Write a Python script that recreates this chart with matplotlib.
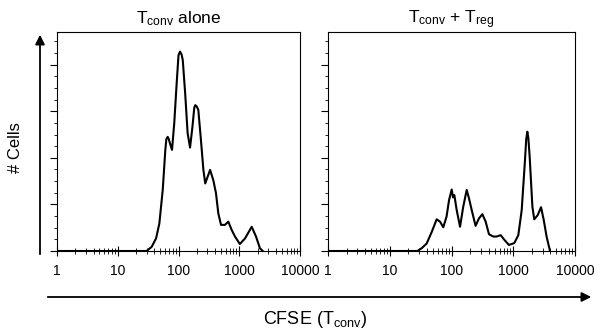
import matplotlib
matplotlib.use("Agg")
import matplotlib.pyplot as plt
from matplotlib.ticker import FixedLocator, MultipleLocator, NullFormatter

plt.rcParams['font.family'] = ['Liberation Sans', 'DejaVu Sans']
plt.rcParams['mathtext.fontset'] = 'custom'
plt.rcParams['mathtext.rm'] = 'Liberation Sans'
plt.rcParams['mathtext.it'] = 'Liberation Sans'

# ---- data (CFSE intensity vs relative cell count) ----
alone_cfse = [1, 10, 29.9, 36.2, 42.7, 48.4, 55.0, 60.7, 63.1, 66.4, 69.2, 72.4, 78.2, 85.1, 93.3,
              100, 105.9, 112.2, 117.5, 128.8, 141.3, 154.9, 169.8, 182, 189.2, 199.5, 211.8, 231.7, 257.0,
              275.4, 331.1, 374.1, 414.0, 451.9, 501.2, 582.1, 660.7, 751.6, 851.1,
              1023, 1245, 1603, 1888, 2188, 2432]
alone_cells = [0, 0, 0, 0.09, 0.27, 0.59, 1.31, 2.17, 2.40, 2.45, 2.40, 2.31, 2.17, 2.74, 3.60,
               4.20, 4.28, 4.22, 4.10, 3.38, 2.53, 2.22, 2.67, 3.08, 3.13, 3.10, 3.03, 2.45, 1.74,
               1.45, 1.74, 1.52, 1.24, 0.81, 0.56, 0.56, 0.63, 0.45, 0.31,
               0.15, 0.27, 0.52, 0.31, 0.06, 0]

treg_cfse = [1, 10, 28.0, 32.9, 39.6, 47.9, 57.5, 65.2, 73.6, 83.2, 91.2, 100.7, 105.9,
             111.2, 121.3, 137.4, 154.9, 176.2, 191.9, 212.3, 245.5, 278.6, 316.2,
             357.3, 404.6, 475.3, 537.0, 625.2, 717.8, 851.1, 1040, 1208, 1371, 1549,
             1622, 1690, 1758, 1845, 2042, 2188, 2489, 2818, 3112, 3467, 3936]
treg_cells = [0, 0, 0, 0.06, 0.16, 0.41, 0.68, 0.63, 0.51, 0.74, 1.09, 1.32, 1.15,
              1.20, 0.88, 0.52, 0.95, 1.31, 1.13, 0.88, 0.54, 0.70, 0.79,
              0.63, 0.36, 0.31, 0.31, 0.34, 0.24, 0.13, 0.17, 0.34, 0.88, 1.95,
              2.40, 2.56, 2.42, 2.02, 0.95, 0.68, 0.77, 0.94, 0.67, 0.31, 0]

x_ticks = [1, 10, 100, 1000, 10000]
x_tick_labels = ["1", "10", "100", "1000", "10000"]
titles = [r"$\mathregular{T_{conv}}$ alone", r"$\mathregular{T_{conv}}$ + $\mathregular{T_{reg}}$"]
y_label = "# Cells"
x_label = r"CFSE ($\mathregular{T_{conv}}$)"

W, H = 600, 332
fig = plt.figure(figsize=(6, 3.32), dpi=100)

def px_rect(x0, y0, x1, y1):
    return [x0 / W, 1 - y1 / H, (x1 - x0) / W, (y1 - y0) / H]

ax1 = fig.add_axes(px_rect(57, 32, 300, 251))
ax2 = fig.add_axes(px_rect(328, 32, 575, 251))

for ax, xs, ys, title in [(ax1, alone_cfse, alone_cells, titles[0]),
                          (ax2, treg_cfse, treg_cells, titles[1])]:
    ax.plot(xs, ys, color='black', lw=1.5, solid_joinstyle='round')
    ax.set_xscale('log')
    ax.set_xlim(1, 10000)
    ax.set_ylim(0, 4.7)
    ax.xaxis.set_major_locator(FixedLocator(x_ticks))
    ax.set_xticklabels(x_tick_labels)
    ax.xaxis.set_minor_formatter(NullFormatter())
    ax.yaxis.set_major_locator(MultipleLocator(1))
    ax.yaxis.set_minor_locator(MultipleLocator(0.25))
    ax.set_yticklabels([])
    ax.tick_params(axis='x', which='major', direction='inout', length=7, width=0.8,
                   labelsize=10, pad=6)
    ax.tick_params(axis='x', which='minor', direction='inout', length=4, width=0.6)
    ax.tick_params(axis='y', which='major', direction='out', length=5, width=0.8)
    ax.tick_params(axis='y', which='minor', direction='out', length=2.5, width=0.6)
    for s in ax.spines.values():
        s.set_linewidth(0.8)
    ax.set_title(title, fontsize=12.5, pad=6)

# axis arrows
fig.add_artist(matplotlib.patches.FancyArrowPatch(
    (40 / W, 1 - 257 / H), (40 / W, 1 - 32 / H), transform=fig.transFigure,
    arrowstyle='-|>', mutation_scale=14, lw=1.3, color='black'))
fig.add_artist(matplotlib.patches.FancyArrowPatch(
    (45 / W, 1 - 297 / H), (594 / W, 1 - 297 / H), transform=fig.transFigure,
    arrowstyle='-|>', mutation_scale=14, lw=1.3, color='black'))

fig.text(16 / W, 1 - 148 / H, y_label, rotation=90, ha='center', va='center', fontsize=12)
fig.text(315 / W, 1 - 320 / H, x_label, ha='center', va='center', fontsize=13)

fig.savefig("out.png", dpi=100)
